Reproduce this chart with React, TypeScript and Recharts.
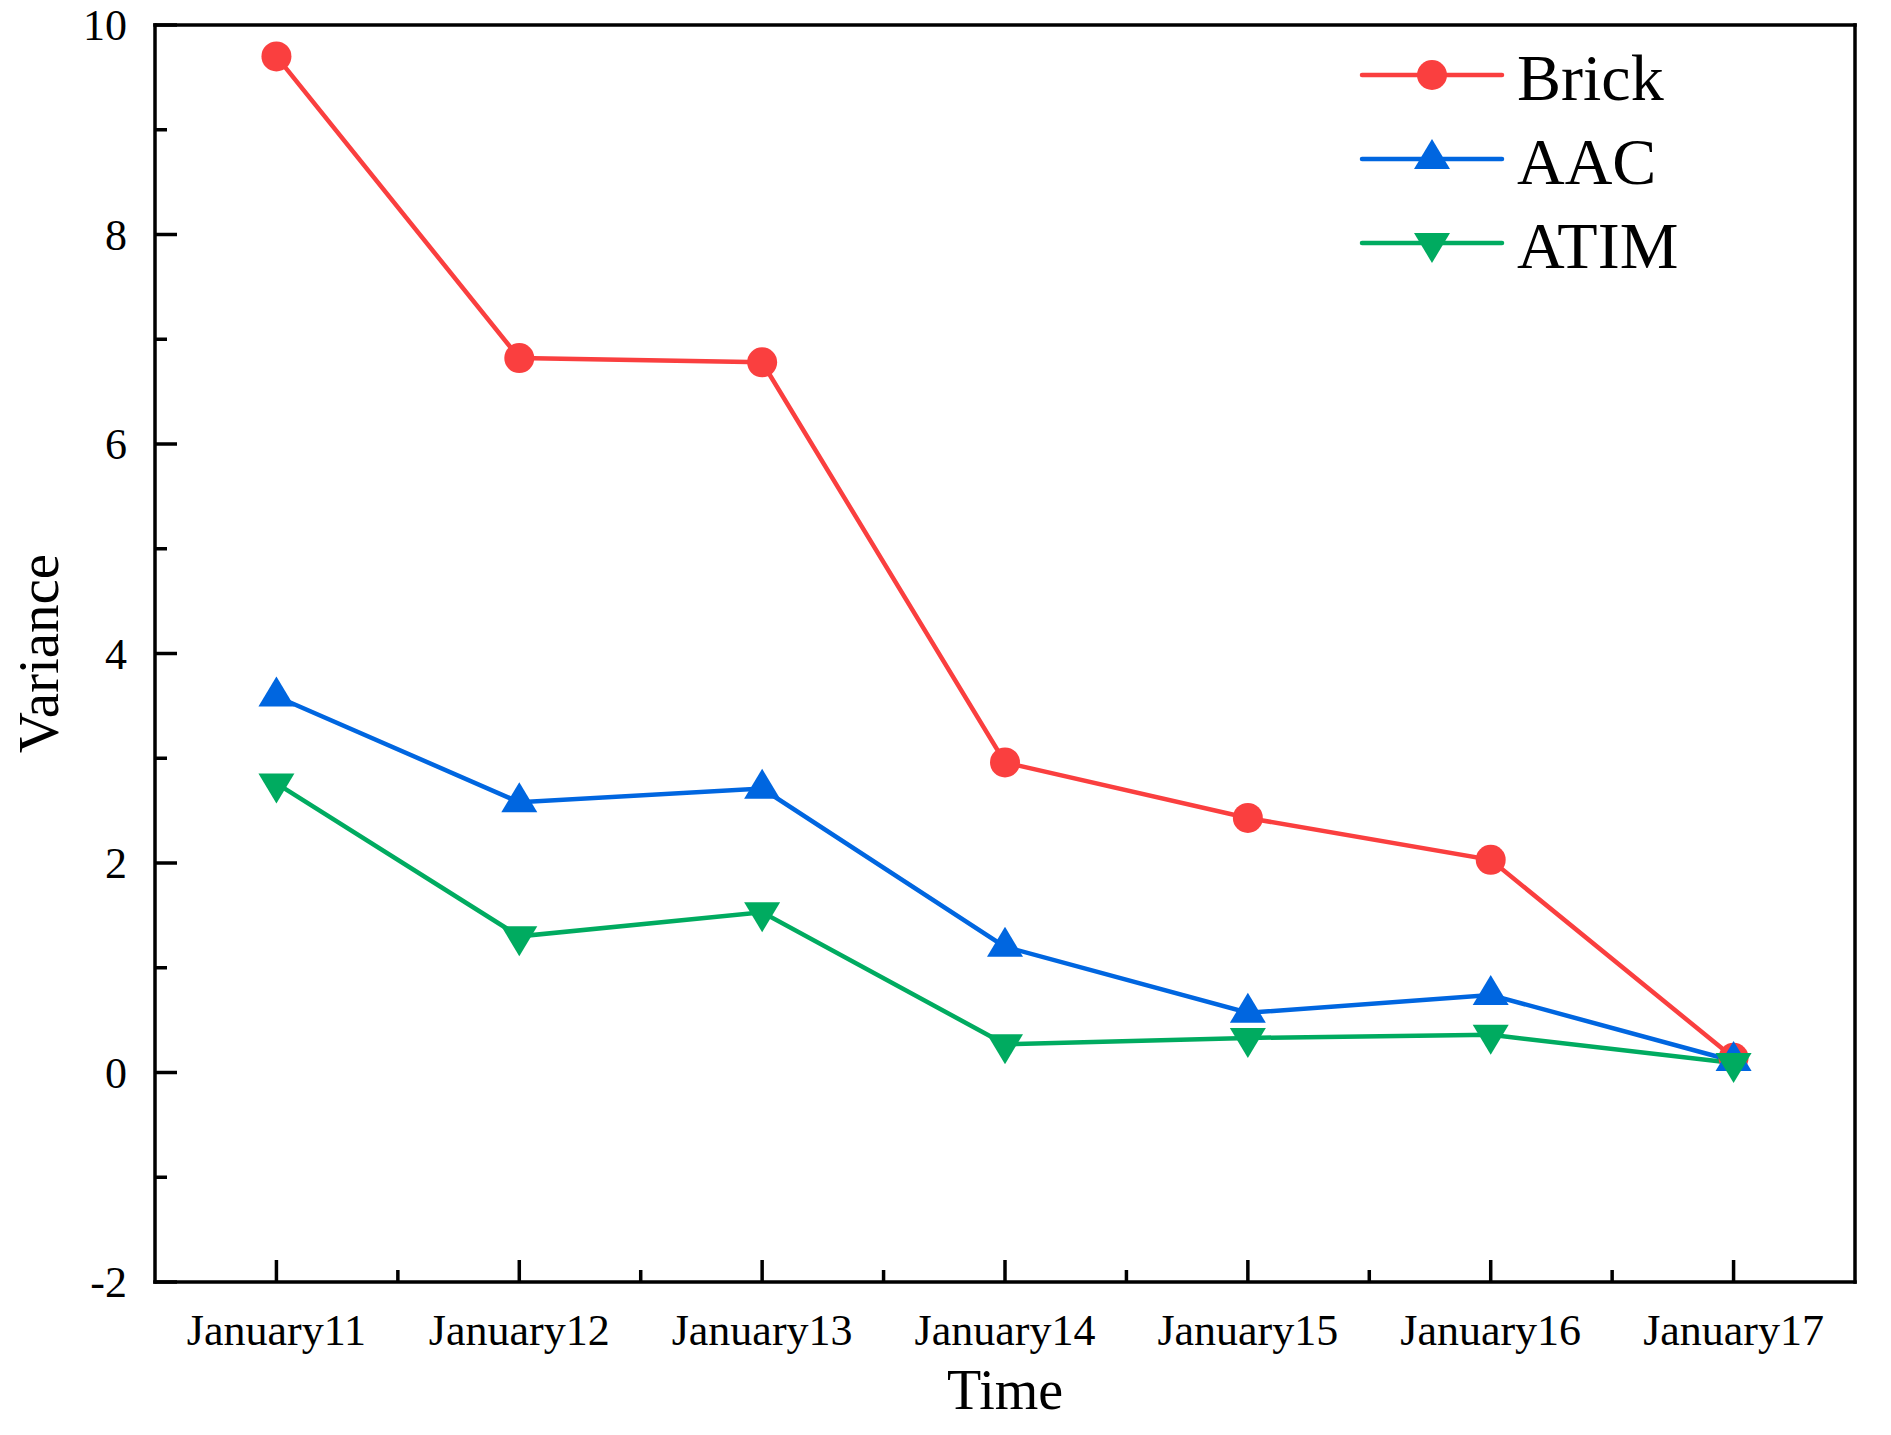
import { LineChart, Line, XAxis, YAxis, ReferenceLine, Legend } from "recharts";

const dates = ["January11", "January12", "January13", "January14", "January15", "January16", "January17"];
const brick = [9.7, 6.82, 6.78, 2.96, 2.43, 2.03, 0.14];
const aac = [3.59, 2.58, 2.71, 1.2, 0.57, 0.74, 0.11];
const atim = [2.76, 1.3, 1.53, 0.27, 0.33, 0.36, 0.09];

const xTicks = [0, 0.5, 1, 1.5, 2, 2.5, 3, 3.5, 4, 4.5, 5, 5.5, 6];
const yTicks = [-2, -1, 0, 1, 2, 3, 4, 5, 6, 7, 8, 9, 10];

const FONT = "'Liberation Serif', 'Times New Roman', serif";

const series = [
  { key: "brick", name: "Brick", color: "#fa3f3f", shape: "circle" },
  { key: "aac", name: "AAC", color: "#0066e0", shape: "up" },
  { key: "atim", name: "ATIM", color: "#00ab60", shape: "down" },
];

const data = dates.map((d, i) => ({ idx: i, date: d, brick: brick[i], aac: aac[i], atim: atim[i] }));

// marker drawn around the data point (triangles centred on their centroid)
const Marker = ({ cx, cy, shape, color }: any) => {
  if (shape === "circle") return <circle cx={cx} cy={cy} r={15} fill={color} />;
  if (shape === "up")
    return <polygon points={`${cx},${cy - 20} ${cx + 18},${cy + 10} ${cx - 18},${cy + 10}`} fill={color} />;
  return <polygon points={`${cx - 18},${cy - 10} ${cx + 18},${cy - 10} ${cx},${cy + 20}`} fill={color} />;
};

const XTick = ({ x, y, payload }: any) => {
  const v = payload.value;
  const major = Number.isInteger(v);
  return (
    <g>
      <line x1={x} x2={x} y1={y} y2={y - (major ? 22 : 12)} stroke="#000" strokeWidth={3.5} />
      {major && (
        <text x={x} y={y + 63} textAnchor="middle" fontSize={44} fontFamily={FONT} fill="#000">
          {dates[v]}
        </text>
      )}
    </g>
  );
};

const YTick = ({ x, y, payload }: any) => {
  const v = payload.value;
  const major = v % 2 === 0;
  return (
    <g>
      <line x1={x} x2={x + (major ? 22 : 12)} y1={y} y2={y} stroke="#000" strokeWidth={3.5} />
      {major && (
        <text x={x - 28} y={y + 15} textAnchor="end" fontSize={44} fontFamily={FONT} fill="#000">
          {v}
        </text>
      )}
    </g>
  );
};

// legend rows follow the series order (Brick, AAC, ATIM)
const LegendBox = () => (
  <svg width={520} height={260}>
    {series.map((s, i) => {
      const cy = 45 + i * 84;
      return (
        <g key={s.key}>
          <line x1={12} x2={152} y1={cy} y2={cy} stroke={s.color} strokeWidth={4.5} strokeLinecap="round" />
          <Marker cx={82} cy={cy} shape={s.shape} color={s.color} />
          <text x={167} y={cy + 25} fontSize={66} fontFamily={FONT} fill="#000">
            {s.name}
          </text>
        </g>
      );
    })}
  </svg>
);

export default function App() {
  return (
    <div style={{ position: "absolute", left: 0, top: 0, background: "#fff" }}>
      <LineChart width={1891} height={1435} data={data} margin={{ top: 25, right: 36, bottom: 0, left: 0 }}>
        <XAxis
          dataKey="idx"
          type="number"
          domain={[-0.5, 6.5]}
          ticks={xTicks}
          interval={0}
          height={153}
          tickSize={0}
          tickMargin={0}
          tickLine={false}
          tick={<XTick />}
          axisLine={{ stroke: "#000", strokeWidth: 3.5, strokeLinecap: "square" }}
          label={{
            content: ({ viewBox }: any) => (
              <text
                x={viewBox.x + viewBox.width / 2}
                y={viewBox.y + 127}
                textAnchor="middle"
                fontSize={56}
                fontFamily={FONT}
                fill="#000"
              >
                Time
              </text>
            ),
          }}
        />
        <YAxis
          type="number"
          domain={[-2, 10]}
          ticks={yTicks}
          interval={0}
          width={155}
          tickSize={0}
          tickMargin={0}
          tickLine={false}
          tick={<YTick />}
          axisLine={{ stroke: "#000", strokeWidth: 3.5, strokeLinecap: "square" }}
          label={{
            content: ({ viewBox }: any) => {
              const cx = viewBox.x + 58;
              const cy = viewBox.y + viewBox.height / 2;
              return (
                <text
                  x={cx}
                  y={cy}
                  transform={`rotate(-90 ${cx} ${cy})`}
                  textAnchor="middle"
                  fontSize={57}
                  fontFamily={FONT}
                  fill="#000"
                >
                  Variance
                </text>
              );
            },
          }}
        />
        <ReferenceLine y={10} stroke="#000" strokeWidth={3.5} strokeLinecap="square" />
        <ReferenceLine x={6.5} stroke="#000" strokeWidth={3.5} strokeLinecap="square" />
        {series.map((s) => (
          <Line
            key={s.key}
            dataKey={s.key}
            name={s.name}
            type="linear"
            stroke={s.color}
            strokeWidth={4.5}
            isAnimationActive={false}
            activeDot={false}
            dot={(p: any) => <Marker key={`${s.key}-${p.index}`} cx={p.cx} cy={p.cy} shape={s.shape} color={s.color} />}
          />
        ))}
        <Legend
          layout="horizontal"
          verticalAlign="middle"
          align="center"
          content={<LegendBox />}
          wrapperStyle={{ left: 1350, top: 30, width: 520, height: 260 }}
        />
      </LineChart>
    </div>
  );
}
